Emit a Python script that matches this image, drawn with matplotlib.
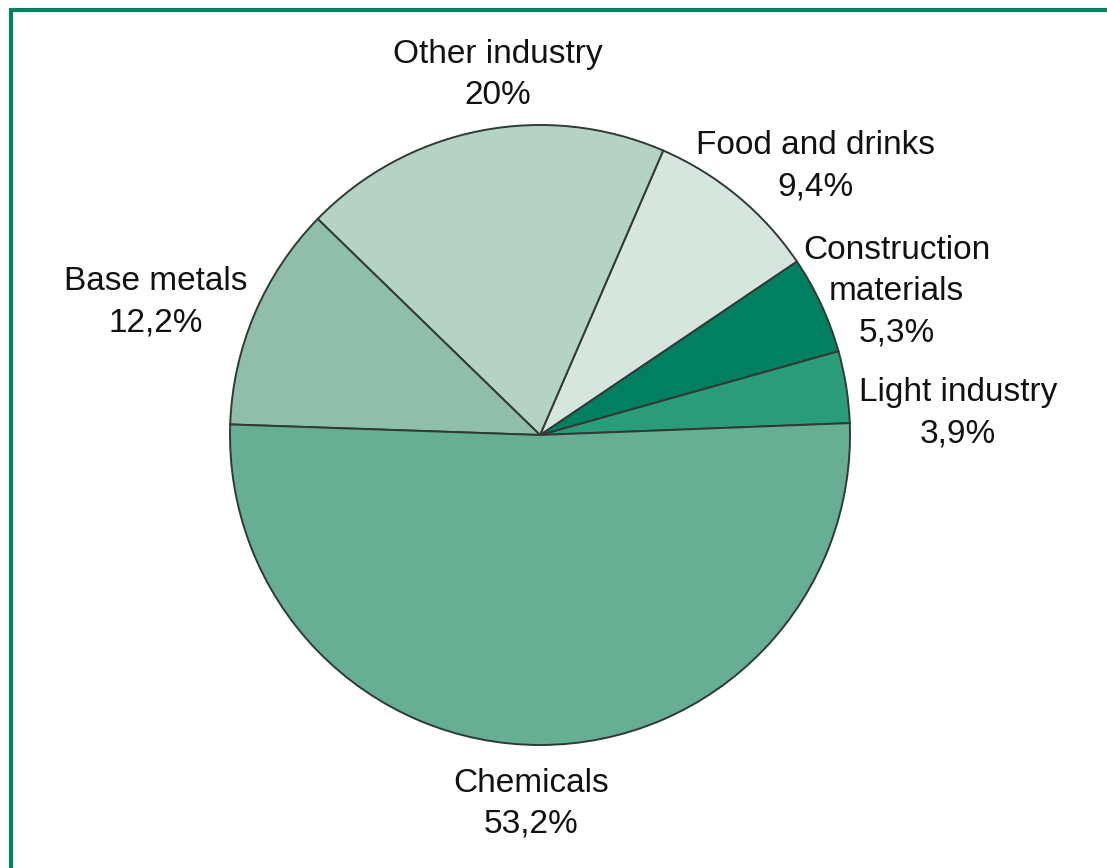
import numpy as np
import matplotlib
matplotlib.use("Agg")
import matplotlib.pyplot as plt
from matplotlib.lines import Line2D

plt.rcParams["font.family"] = ["Liberation Sans Narrow", "Liberation Sans", "DejaVu Sans"]

# Données (sens anti-horaire, à partir de la droite)
categories = ["Light industry", "Construction\nmaterials", "Food and drinks",
              "Other industry", "Base metals", "Chemicals"]
values = [3.9, 5.3, 9.4, 20.0, 12.2, 53.2]
value_labels = ["3,9%", "5,3%", "9,4%", "20%", "12,2%", "53,2%"]
colors = ["#2a9c7a", "#008060", "#d6e6de", "#b5d3c5", "#8fbfaa", "#66ae94"]

# placement des étiquettes : décalage angulaire (deg) et distance (x rayon)
label_shift = [-6, -3, -6, -4.5, 4, -1.5]
label_dist = [1.35, 1.24, 1.24, 1.17, 1.31, 1.19]

W, H = 1107, 868
fig = plt.figure(figsize=(W / 100, H / 100), dpi=100)
ax = fig.add_axes([0, 0, 1, 1])

cx, cy, r = 540, H - 435, 310
wedges, _ = ax.pie(values, colors=colors, startangle=2.2, counterclock=True,
                   center=(cx, cy), radius=r, frame=True,
                   wedgeprops=dict(edgecolor="#2f3b35", linewidth=1.4))
ax.set_xlim(0, W)
ax.set_ylim(0, H)
ax.set_aspect("equal")
ax.axis("off")

for w, cat, lab, sh, d in zip(wedges, categories, value_labels, label_shift, label_dist):
    ang = np.deg2rad((w.theta1 + w.theta2) / 2 + sh)
    x = cx + d * r * np.cos(ang)
    y = cy + d * r * np.sin(ang)
    ax.text(x, y, cat + "\n" + lab, ha="center", va="center",
            fontsize=24, linespacing=1.42, color="#111111")

# cadre vert (haut et gauche)
green = "#008060"
fig.add_artist(Line2D([9.5 / W, 1], [1 - 9.5 / H, 1 - 9.5 / H], color=green,
                      linewidth=3, transform=fig.transFigure, solid_capstyle="butt"))
fig.add_artist(Line2D([10.5 / W, 10.5 / W], [0, 1 - 8 / H], color=green,
                      linewidth=3, transform=fig.transFigure, solid_capstyle="butt"))

fig.savefig("out.png", dpi=100, facecolor="white")
